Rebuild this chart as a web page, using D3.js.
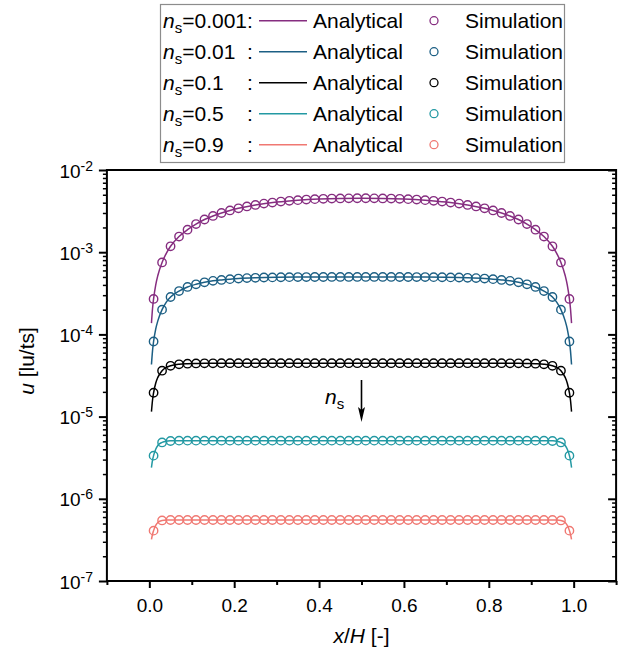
<!DOCTYPE html>
<html>
<head>
<meta charset="utf-8">
<script src="https://cdn.jsdelivr.net/npm/d3@7"></script>
<style>
  html, body { margin: 0; padding: 0; background: #fff; }
  svg { display: block; font-family: "Liberation Sans", Arial, sans-serif; }
</style>
</head>
<body>
<svg id="chart" width="634" height="655"></svg>
<script>
// Solid-fraction cases and their colours
const nsLabels = ["0.001", "0.01", "0.1", "0.5", "0.9"];
const seriesColors = ["#862d80", "#1c5f84", "#000000", "#2399a3", "#f07872"];

// Analytical profiles: sample positions across the channel
const lineX = [0.005, 0.0075, 0.01, 0.015, 0.02, 0.03, 0.04, 0.05, 0.07, 0.09, 0.11, 0.13, 0.15, 0.17, 0.19, 0.21,
  0.25, 0.30, 0.35, 0.40, 0.45, 0.50, 0.55, 0.60, 0.65, 0.70, 0.75,
  0.79, 0.81, 0.83, 0.85, 0.87, 0.89, 0.91, 0.93, 0.95, 0.96, 0.97, 0.98, 0.985, 0.99, 0.9925, 0.995];

const analytical001 = [1.37e-4, 2.05e-4, 2.7e-4, 3.98e-4, 5.2e-4, 7.5e-4, 9.7e-4, 1.18e-3, 1.55e-3, 1.88e-3, 2.2e-3, 2.5e-3, 2.76e-3, 3.0e-3, 3.22e-3, 3.42e-3,
  3.76e-3, 4.08e-3, 4.3e-3, 4.44e-3, 4.51e-3, 4.53e-3, 4.51e-3, 4.44e-3, 4.3e-3, 4.08e-3, 3.76e-3,
  3.42e-3, 3.22e-3, 3.0e-3, 2.76e-3, 2.5e-3, 2.2e-3, 1.88e-3, 1.55e-3, 1.18e-3, 9.7e-4, 7.5e-4, 5.2e-4, 3.98e-4, 2.7e-4, 2.05e-4, 1.37e-4];
const analytical01 = [4.3e-5, 6.3e-5, 8.2e-5, 1.16e-4, 1.46e-4, 2.0e-4, 2.47e-4, 2.85e-4, 3.37e-4, 3.78e-4, 4.07e-4, 4.3e-4, 4.48e-4, 4.6e-4, 4.7e-4, 4.78e-4,
  4.88e-4, 4.95e-4, 4.98e-4, 4.99e-4, 5.0e-4, 5.0e-4, 5.0e-4, 4.99e-4, 4.98e-4, 4.95e-4, 4.88e-4,
  4.78e-4, 4.7e-4, 4.6e-4, 4.48e-4, 4.3e-4, 4.07e-4, 3.78e-4, 3.37e-4, 2.85e-4, 2.47e-4, 2.0e-4, 1.46e-4, 1.16e-4, 8.2e-5, 6.3e-5, 4.3e-5];
const analytical1 = [1.15e-5, 1.58e-5, 1.95e-5, 2.55e-5, 3.0e-5, 3.62e-5, 3.97e-5, 4.15e-5, 4.33e-5, 4.4e-5, 4.43e-5, 4.45e-5, 4.45e-5, 4.46e-5, 4.46e-5, 4.46e-5,
  4.46e-5, 4.46e-5, 4.46e-5, 4.46e-5, 4.46e-5, 4.46e-5, 4.46e-5, 4.46e-5, 4.46e-5, 4.46e-5, 4.46e-5,
  4.46e-5, 4.46e-5, 4.46e-5, 4.45e-5, 4.45e-5, 4.43e-5, 4.4e-5, 4.33e-5, 4.15e-5, 3.97e-5, 3.62e-5, 3.0e-5, 2.55e-5, 1.95e-5, 1.58e-5, 1.15e-5];
const analytical5 = [2.4e-6, 2.95e-6, 3.35e-6, 4.0e-6, 4.45e-6, 4.85e-6, 5.02e-6, 5.07e-6, 5.1e-6, 5.1e-6, 5.1e-6, 5.1e-6, 5.1e-6, 5.1e-6, 5.1e-6, 5.1e-6,
  5.1e-6, 5.1e-6, 5.1e-6, 5.1e-6, 5.1e-6, 5.1e-6, 5.1e-6, 5.1e-6, 5.1e-6, 5.1e-6, 5.1e-6,
  5.1e-6, 5.1e-6, 5.1e-6, 5.1e-6, 5.1e-6, 5.1e-6, 5.1e-6, 5.1e-6, 5.07e-6, 5.02e-6, 4.85e-6, 4.45e-6, 4.0e-6, 3.35e-6, 2.95e-6, 2.4e-6];
const analytical9 = [3.2e-7, 3.7e-7, 4.1e-7, 4.75e-7, 5.15e-7, 5.45e-7, 5.52e-7, 5.53e-7, 5.53e-7, 5.53e-7, 5.53e-7, 5.53e-7, 5.53e-7, 5.53e-7, 5.53e-7, 5.53e-7,
  5.53e-7, 5.53e-7, 5.53e-7, 5.53e-7, 5.53e-7, 5.53e-7, 5.53e-7, 5.53e-7, 5.53e-7, 5.53e-7, 5.53e-7,
  5.53e-7, 5.53e-7, 5.53e-7, 5.53e-7, 5.53e-7, 5.53e-7, 5.53e-7, 5.53e-7, 5.53e-7, 5.52e-7, 5.45e-7, 5.15e-7, 4.75e-7, 4.1e-7, 3.7e-7, 3.2e-7];

// Simulation samples (cell centres)
const simX = [0.01, 0.03, 0.05, 0.07, 0.09, 0.11, 0.13, 0.15, 0.17, 0.19, 0.21, 0.23, 0.25, 0.27, 0.29, 0.31, 0.33, 0.35, 0.37, 0.39, 0.41, 0.43, 0.45, 0.47, 0.49,
  0.51, 0.53, 0.55, 0.57, 0.59, 0.61, 0.63, 0.65, 0.67, 0.69, 0.71, 0.73, 0.75, 0.77, 0.79, 0.81, 0.83, 0.85, 0.87, 0.89, 0.91, 0.93, 0.95, 0.97, 0.99];

const sim001 = [2.7e-4, 7.5e-4, 1.18e-3, 1.55e-3, 1.88e-3, 2.2e-3, 2.5e-3, 2.76e-3, 3.0e-3, 3.22e-3, 3.42e-3, 3.6e-3, 3.76e-3, 3.9e-3, 4.02e-3, 4.13e-3, 4.22e-3, 4.3e-3, 4.37e-3, 4.42e-3, 4.46e-3, 4.49e-3, 4.51e-3, 4.52e-3, 4.53e-3,
  4.53e-3, 4.52e-3, 4.51e-3, 4.49e-3, 4.46e-3, 4.42e-3, 4.37e-3, 4.3e-3, 4.22e-3, 4.13e-3, 4.02e-3, 3.9e-3, 3.76e-3, 3.6e-3, 3.42e-3, 3.22e-3, 3.0e-3, 2.76e-3, 2.5e-3, 2.2e-3, 1.88e-3, 1.55e-3, 1.18e-3, 7.5e-4, 2.7e-4];
const sim01 = [8.2e-5, 2.0e-4, 2.85e-4, 3.37e-4, 3.78e-4, 4.07e-4, 4.3e-4, 4.48e-4, 4.6e-4, 4.7e-4, 4.78e-4, 4.84e-4, 4.88e-4, 4.92e-4, 4.94e-4, 4.96e-4, 4.97e-4, 4.98e-4, 4.98e-4, 4.99e-4, 4.99e-4, 5.0e-4, 5.0e-4, 5.0e-4, 5.0e-4,
  5.0e-4, 5.0e-4, 5.0e-4, 5.0e-4, 4.99e-4, 4.99e-4, 4.98e-4, 4.98e-4, 4.97e-4, 4.96e-4, 4.94e-4, 4.92e-4, 4.88e-4, 4.84e-4, 4.78e-4, 4.7e-4, 4.6e-4, 4.48e-4, 4.3e-4, 4.07e-4, 3.78e-4, 3.37e-4, 2.85e-4, 2.0e-4, 8.2e-5];
const sim1 = [1.95e-5, 3.62e-5, 4.15e-5, 4.33e-5, 4.4e-5, 4.43e-5, 4.45e-5, 4.45e-5, 4.46e-5, 4.46e-5, 4.46e-5, 4.46e-5, 4.46e-5, 4.46e-5, 4.46e-5, 4.46e-5, 4.46e-5, 4.46e-5, 4.46e-5, 4.46e-5, 4.46e-5, 4.46e-5, 4.46e-5, 4.46e-5, 4.46e-5,
  4.46e-5, 4.46e-5, 4.46e-5, 4.46e-5, 4.46e-5, 4.46e-5, 4.46e-5, 4.46e-5, 4.46e-5, 4.46e-5, 4.46e-5, 4.46e-5, 4.46e-5, 4.46e-5, 4.46e-5, 4.46e-5, 4.46e-5, 4.45e-5, 4.45e-5, 4.43e-5, 4.4e-5, 4.33e-5, 4.15e-5, 3.62e-5, 1.95e-5];
const sim5 = [3.35e-6, 4.85e-6, 5.05e-6, 5.1e-6, 5.1e-6, 5.1e-6, 5.1e-6, 5.1e-6, 5.1e-6, 5.1e-6, 5.1e-6, 5.1e-6, 5.1e-6, 5.1e-6, 5.1e-6, 5.1e-6, 5.1e-6, 5.1e-6, 5.1e-6, 5.1e-6, 5.1e-6, 5.1e-6, 5.1e-6, 5.1e-6, 5.1e-6,
  5.1e-6, 5.1e-6, 5.1e-6, 5.1e-6, 5.1e-6, 5.1e-6, 5.1e-6, 5.1e-6, 5.1e-6, 5.1e-6, 5.1e-6, 5.1e-6, 5.1e-6, 5.1e-6, 5.1e-6, 5.1e-6, 5.1e-6, 5.1e-6, 5.1e-6, 5.1e-6, 5.1e-6, 5.1e-6, 5.05e-6, 4.85e-6, 3.35e-6];
const sim9 = [4.1e-7, 5.45e-7, 5.52e-7, 5.52e-7, 5.52e-7, 5.52e-7, 5.52e-7, 5.52e-7, 5.52e-7, 5.52e-7, 5.52e-7, 5.52e-7, 5.52e-7, 5.52e-7, 5.52e-7, 5.52e-7, 5.52e-7, 5.52e-7, 5.52e-7, 5.52e-7, 5.52e-7, 5.52e-7, 5.52e-7, 5.52e-7, 5.52e-7,
  5.52e-7, 5.52e-7, 5.52e-7, 5.52e-7, 5.52e-7, 5.52e-7, 5.52e-7, 5.52e-7, 5.52e-7, 5.52e-7, 5.52e-7, 5.52e-7, 5.52e-7, 5.52e-7, 5.52e-7, 5.52e-7, 5.52e-7, 5.52e-7, 5.52e-7, 5.52e-7, 5.52e-7, 5.52e-7, 5.52e-7, 5.45e-7, 4.1e-7];

// Axis ticks
const xMajorTicks = [0.0, 0.2, 0.4, 0.6, 0.8, 1.0];
const xMinorTicks = [-0.1, 0.1, 0.3, 0.5, 0.7, 0.9, 1.1];
const yExponents = [-7, -6, -5, -4, -3, -2];

const analyticalSeries = [analytical001, analytical01, analytical1, analytical5, analytical9];
const simulationSeries = [sim001, sim01, sim1, sim5, sim9];

const svg = d3.select("#chart");
const plot = { left: 106.9, right: 616.1, top: 170, bottom: 581 };

const x = d3.scaleLinear().domain([-0.1, 1.1]).range([plot.left, plot.right]);
const y = d3.scaleLog().domain([1e-7, 1e-2]).range([plot.bottom, plot.top]);

const yMajorTicks = yExponents.map(e => Math.pow(10, e));
const yMinorTicks = [];
yExponents.slice(0, -1).forEach(e => {
  for (let k = 2; k <= 9; k++) yMinorTicks.push(k * Math.pow(10, e));
});

// Curves and markers
const line = d3.line()
  .x(d => x(d[0]))
  .y(d => y(d[1]))
  .curve(d3.curveMonotoneX);

const dataG = svg.append("g");
analyticalSeries.forEach((vals, i) => {
  dataG.append("path")
    .datum(lineX.map((xv, j) => [xv, vals[j]]))
    .attr("d", line)
    .attr("fill", "none")
    .attr("stroke", seriesColors[i])
    .attr("stroke-width", 1.5);
});
simulationSeries.forEach((vals, i) => {
  dataG.append("g")
    .selectAll("circle")
    .data(simX.map((xv, j) => [xv, vals[j]]))
    .join("circle")
    .attr("cx", d => x(d[0]))
    .attr("cy", d => y(d[1]))
    .attr("r", 4.2)
    .attr("fill", "none")
    .attr("stroke", seriesColors[i])
    .attr("stroke-width", 1.4);
});

// Axes
function styleAxis(g, width) {
  g.select(".domain").remove();
  g.selectAll(".tick line").attr("stroke", "#000").attr("stroke-width", width);
}

svg.append("g")
  .attr("transform", `translate(0,${plot.bottom})`)
  .call(d3.axisBottom(x).tickValues(xMinorTicks).tickSize(4).tickFormat(""))
  .call(g => styleAxis(g, 2));
svg.append("g")
  .attr("transform", `translate(0,${plot.bottom})`)
  .call(d3.axisBottom(x).tickValues(xMajorTicks).tickSize(7).tickPadding(6).tickFormat(d3.format(".1f")))
  .call(g => styleAxis(g, 2))
  .call(g => g.selectAll("text")
    .attr("font-size", 19)
    .attr("fill", "#000")
    .attr("font-family", "Liberation Sans, Arial, sans-serif")
    .attr("dy", null)
    .attr("y", 31));

svg.append("g")
  .attr("transform", `translate(${plot.left},0)`)
  .call(d3.axisLeft(y).tickValues(yMinorTicks).tickSize(4).tickFormat(""))
  .call(g => styleAxis(g, 1.5));
svg.append("g")
  .attr("transform", `translate(${plot.left},0)`)
  .call(d3.axisLeft(y).tickValues(yMajorTicks).tickSize(8).tickFormat(""))
  .call(g => styleAxis(g, 2));

svg.append("g")
  .attr("transform", `translate(${plot.right},0)`)
  .call(d3.axisLeft(y).tickValues(yMinorTicks).tickSize(4).tickFormat(""))
  .call(g => styleAxis(g, 1.5));
svg.append("g")
  .attr("transform", `translate(${plot.right},0)`)
  .call(d3.axisLeft(y).tickValues(yMajorTicks).tickSize(8).tickFormat(""))
  .call(g => styleAxis(g, 2));

// Power-of-ten labels
const yLabels = svg.append("g");
yExponents.forEach(e => {
  const t = yLabels.append("text")
    .attr("x", 93)
    .attr("y", y(Math.pow(10, e)) + 7.5)
    .attr("text-anchor", "end")
    .attr("font-size", 19)
    .attr("fill", "#000");
  t.append("tspan").text("10");
  t.append("tspan").attr("dy", -7).attr("font-size", 14).text(String(e));
});

// Plot frame
svg.append("rect")
  .attr("x", plot.left)
  .attr("y", plot.top)
  .attr("width", plot.right - plot.left)
  .attr("height", plot.bottom - plot.top)
  .attr("fill", "none")
  .attr("stroke", "#000")
  .attr("stroke-width", 2);

// Axis titles
const xTitle = svg.append("text")
  .attr("x", (plot.left + plot.right) / 2)
  .attr("y", 643)
  .attr("text-anchor", "middle")
  .attr("font-size", 21)
  .attr("fill", "#000");
xTitle.append("tspan").attr("font-style", "italic").text("x");
xTitle.append("tspan").text("/");
xTitle.append("tspan").attr("font-style", "italic").text("H");
xTitle.append("tspan").text(" [-]");

const yTitle = svg.append("text")
  .attr("transform", "translate(34,361) rotate(-90)")
  .attr("text-anchor", "middle")
  .attr("font-size", 21)
  .attr("fill", "#000");
yTitle.append("tspan").attr("font-style", "italic").text("u");
yTitle.append("tspan").text(" [lu/ts]");

// Trend annotation
const ann = svg.append("text")
  .attr("x", 325)
  .attr("y", 404)
  .attr("font-size", 21)
  .attr("fill", "#000");
ann.append("tspan").attr("font-style", "italic").text("n");
ann.append("tspan").attr("dy", 5).attr("font-size", 15).text("s");

const arrowX = x(0.5);
svg.append("line")
  .attr("x1", arrowX).attr("x2", arrowX)
  .attr("y1", 380).attr("y2", 412)
  .attr("stroke", "#000").attr("stroke-width", 1.6);
svg.append("path")
  .attr("d", `M${arrowX - 3.5},407 L${arrowX},422 L${arrowX + 3.5},407 L${arrowX},410 Z`)
  .attr("fill", "#000");

// Legend
const legend = svg.append("g");
legend.append("rect")
  .attr("x", 160.5).attr("y", 4.5)
  .attr("width", 404).attr("height", 158)
  .attr("fill", "#fff")
  .attr("stroke", "#8c8c8c")
  .attr("stroke-width", 1.2);

nsLabels.forEach((lab, i) => {
  const base = 27.5 + i * 31;
  const mid = base - 6.8;
  const t = legend.append("text")
    .attr("x", 163).attr("y", base)
    .attr("font-size", 21).attr("fill", "#000");
  t.append("tspan").attr("font-style", "italic").text("n");
  t.append("tspan").attr("dy", 5).attr("font-size", 15).text("s");
  t.append("tspan").attr("dy", -5).text("=" + lab);

  legend.append("text")
    .attr("x", 247).attr("y", base)
    .attr("font-size", 21).attr("fill", "#000")
    .text(":");

  legend.append("line")
    .attr("x1", 259).attr("x2", 307)
    .attr("y1", mid).attr("y2", mid)
    .attr("stroke", seriesColors[i]).attr("stroke-width", 1.5);
  legend.append("text")
    .attr("x", 313).attr("y", base)
    .attr("font-size", 21).attr("fill", "#000")
    .text("Analytical");

  legend.append("circle")
    .attr("cx", 434).attr("cy", mid).attr("r", 4)
    .attr("fill", "none")
    .attr("stroke", seriesColors[i]).attr("stroke-width", 1.3);
  legend.append("text")
    .attr("x", 465).attr("y", base)
    .attr("font-size", 21).attr("fill", "#000")
    .text("Simulation");
});
</script>
</body>
</html>
